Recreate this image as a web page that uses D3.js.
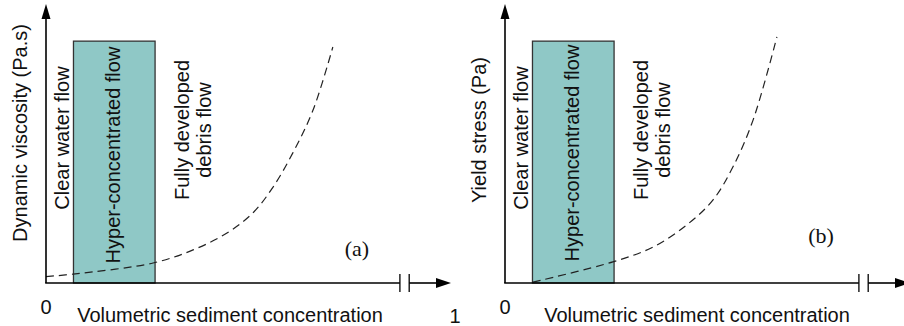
<!DOCTYPE html>
<html>
<head>
<meta charset="utf-8">
<script src="https://cdn.jsdelivr.net/npm/d3@7"></script>
<style>
  body { margin: 0; background: #fff; }
  svg { display: block; }
  text { font-family: Arial, "Liberation Sans", sans-serif; fill: #111; }
</style>
</head>
<body>
<div id="chart"></div>
<script>
// concentration is a fraction of 1, y values are relative (0-100)
var panelIds = ["a", "b"];
var yTitles = ["Dynamic viscosity (Pa.s)", "Yield stress (Pa)"];
var xTitle = "Volumetric sediment concentration";
var tickLabels = ["0", "1"];
var zoneBounds = [0.068, 0.27];        // clear water | hyper-concentrated | debris
var zoneTop = 87;
var zoneLabels = ["Clear water flow", "Hyper-concentrated flow", ["Fully developed", "debris flow"]];

var curveA_x = [0.0, 0.067, 0.265, 0.364, 0.448, 0.512, 0.562, 0.611, 0.661, 0.710];
var curveA_y = [2.3, 3.2, 7.2, 11.9, 18.0, 25.2, 34.5, 46.8, 62.2, 84.9];
var curveB_x = [0.069, 0.267, 0.366, 0.450, 0.515, 0.564, 0.614, 0.673];
var curveB_y = [0.3, 7.6, 12.9, 20.9, 29.9, 41.7, 58.6, 88.5];

var width = 904, height = 326;
var fs = "20px";
var svg = d3.select("#chart").append("svg")
  .attr("width", width)
  .attr("height", height);

// one panel each, by axis origin (the "1" of panel b falls outside the picture)
var panels = [
  {id: panelIds[0], ox: 46, title: yTitles[0], xs: curveA_x, ys: curveA_y, showOne: true,
   titleY: 133, xlabelDx: 184, tagX: 311, tagY: 256},
  {id: panelIds[1], ox: 505, title: yTitles[1], xs: curveB_x, ys: curveB_y, showOne: false,
   titleY: 130, xlabelDx: 192, tagX: 316, tagY: 243}
];

var x = d3.scaleLinear().domain([0, 1]).range([0, 404]);
var y = d3.scaleLinear().domain([0, 100]).range([283, 5]);

panels.forEach(function(p) {
  var g = svg.append("g").attr("transform", "translate(" + p.ox + ",0)");

  // hyper-concentrated zone
  g.append("rect")
    .attr("x", x(zoneBounds[0]))
    .attr("y", y(zoneTop))
    .attr("width", x(zoneBounds[1]) - x(zoneBounds[0]))
    .attr("height", y(0) - y(zoneTop))
    .style("fill", "#8fc8c6")
    .style("stroke", "#333")
    .style("stroke-width", 1.3);

  // dashed trend
  var pts = p.xs.map(function(v, i) { return [v, p.ys[i]]; });
  g.append("path")
    .datum(pts)
    .attr("d", d3.line()
      .x(function(d) { return x(d[0]); })
      .y(function(d) { return y(d[1]); })
      .curve(d3.curveCatmullRom))
    .style("fill", "none")
    .style("stroke", "#222")
    .style("stroke-width", 1.2)
    .style("stroke-dasharray", "8,5");

  // axes
  var brk1 = x(0.876), brk2 = x(0.899);
  g.append("line").attr("x1", 0).attr("y1", y(0)).attr("x2", 0).attr("y2", 18)
    .style("stroke", "#000").style("stroke-width", 1.6);
  g.append("path").attr("d", "M-4.5,19L0,4L4.5,19Z").style("fill", "#000");

  g.append("line").attr("x1", -0.8).attr("y1", y(0)).attr("x2", brk1).attr("y2", y(0))
    .style("stroke", "#000").style("stroke-width", 1.6);
  g.append("line").attr("x1", brk2).attr("y1", y(0)).attr("x2", x(1) - 12).attr("y2", y(0))
    .style("stroke", "#000").style("stroke-width", 1.6);
  [brk1, brk2].forEach(function(bx) {
    g.append("line").attr("x1", bx).attr("x2", bx).attr("y1", 274).attr("y2", 292)
      .style("stroke", "#000").style("stroke-width", 1.3);
  });
  g.append("path")
    .attr("d", "M" + (x(1) - 14) + "," + (y(0) - 5) + "L" + (x(1) + 1) + "," + y(0) +
               "L" + (x(1) - 14) + "," + (y(0) + 5) + "Z")
    .style("fill", "#000");

  // tick labels 0 and 1
  g.append("text").attr("x", x(0)).attr("y", 314).attr("text-anchor", "middle")
    .style("font-size", fs).text(tickLabels[0]);
  if (p.showOne) {
    g.append("text").attr("x", x(1) + 5).attr("y", 323).attr("text-anchor", "middle")
      .style("font-size", fs).text(tickLabels[1]);
  }

  // x title
  g.append("text").attr("x", p.xlabelDx).attr("y", 322).attr("text-anchor", "middle")
    .style("font-size", fs).text(xTitle);

  // y title
  g.append("text")
    .attr("transform", "translate(" + (-26) + "," + p.titleY + ") rotate(-90)")
    .attr("text-anchor", "middle").attr("dy", "0.35em")
    .style("font-size", fs).text(p.title);

  // zone labels
  var cx0 = (x(0) + x(zoneBounds[0])) / 2;
  var cx1 = (x(zoneBounds[0]) + x(zoneBounds[1])) / 2;
  g.append("text")
    .attr("transform", "translate(" + (cx0 + 2) + ",138) rotate(-90)")
    .attr("text-anchor", "middle").attr("dy", "0.35em")
    .style("font-size", fs).text(zoneLabels[0]);
  g.append("text")
    .attr("transform", "translate(" + (cx1 - 1) + "," + (p.id === "a" ? 155 : 153) + ") rotate(-90)")
    .attr("text-anchor", "middle").attr("dy", "0.35em")
    .style("font-size", fs).text(zoneLabels[1]);
  zoneLabels[2].forEach(function(t, i) {
    g.append("text")
      .attr("transform", "translate(" + (136 + i * 22) + ",130) rotate(-90)")
      .attr("text-anchor", "middle").attr("dy", "0.35em")
      .style("font-size", fs).text(t);
  });

  // panel tag
  g.append("text").attr("x", p.tagX).attr("y", p.tagY).attr("text-anchor", "middle")
    .style("font-family", "'Times New Roman', 'Liberation Serif', serif")
    .style("font-size", "22px").text("(" + p.id + ")");
});
</script>
</body>
</html>
